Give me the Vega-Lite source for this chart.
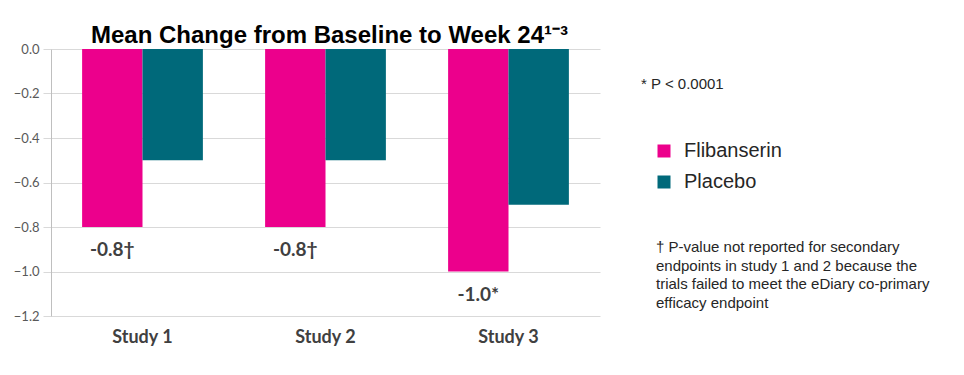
{
  "$schema": "https://vega.github.io/schema/vega-lite/v6.json",
  "width": 549,
  "height": 267,
  "autosize": {"type": "none"},
  "padding": {"left": 51, "top": 49, "right": 364, "bottom": 59},
  "background": "white",
  "title": {
    "text": "Mean Change from Baseline to Week 24¹⁻³",
    "font": "Liberation Sans",
    "fontSize": 24,
    "fontWeight": "bold",
    "color": "#000000",
    "anchor": "middle",
    "offset": -5,
    "dx": 4
  },
  "config": {
    "view": {"stroke": null},
    "axis": {"labelFont": "Lato", "titleFont": "Lato"}
  },
  "datasets": {
    "bars": [
      {"study": "Study 1", "group": "Flibanserin", "value": -0.8, "label": "-0.8†"},
      {"study": "Study 1", "group": "Placebo", "value": -0.5, "label": ""},
      {"study": "Study 2", "group": "Flibanserin", "value": -0.8, "label": "-0.8†"},
      {"study": "Study 2", "group": "Placebo", "value": -0.5, "label": ""},
      {"study": "Study 3", "group": "Flibanserin", "value": -1.0, "label": "-1.0*"},
      {"study": "Study 3", "group": "Placebo", "value": -0.7, "label": ""}
    ],
    "pnote": [{"note": "* P < 0.0001"}],
    "footnote": [{"note": ["† P-value not reported for secondary", "endpoints in study 1 and 2  because the", "trials failed to meet the eDiary co-primary", "efficacy endpoint"]}]
  },
  "layer": [
    {
      "data": {"name": "bars"},
      "mark": {"type": "bar"},
      "encoding": {
        "x": {
          "field": "study",
          "type": "nominal",
          "scale": {"paddingInner": 0.34, "paddingOuter": 0.17},
          "axis": {
            "title": null,
            "labelAngle": 0,
            "labelFont": "Lato",
            "labelFontSize": 18,
            "labelFontWeight": "bold",
            "labelColor": "#404040",
            "labelPadding": 12,
            "domain": false,
            "ticks": false,
            "grid": false
          }
        },
        "xOffset": {
          "field": "group",
          "type": "nominal",
          "scale": {"paddingInner": 0, "paddingOuter": 0, "domain": ["Flibanserin", "Placebo"]}
        },
        "y": {
          "field": "value",
          "type": "quantitative",
          "scale": {"domain": [-1.2, 0], "nice": false},
          "axis": {
            "title": null,
            "values": [0, -0.2, -0.4, -0.6, -0.8, -1.0, -1.2],
            "format": ".1f",
            "labelFont": "Lato",
            "labelFontSize": 13,
            "labelColor": "#595959",
            "labelPadding": 4,
            "tickSize": 8,
            "tickColor": "#d9d9d9",
            "domainColor": "#bfbfbf",
            "gridColor": "#d9d9d9",
            "grid": true
          }
        },
        "color": {
          "field": "group",
          "type": "nominal",
          "scale": {"domain": ["Flibanserin", "Placebo"], "range": ["#EC008C", "#00697A"]},
          "legend": {
            "title": null,
            "orient": "none",
            "legendX": 603,
            "legendY": 92,
            "symbolType": "square",
            "symbolSize": 169,
            "symbolStrokeWidth": 0,
            "labelFont": "Liberation Sans",
            "labelFontSize": 20,
            "labelColor": "#262626",
            "labelOffset": 10,
            "rowPadding": 11
          }
        }
      }
    },
    {
      "data": {"name": "bars"},
      "transform": [{"filter": "datum.group === 'Flibanserin'"}],
      "mark": {"type": "text", "baseline": "middle", "align": "center", "dy": 23, "font": "Lato", "fontSize": 19, "fontWeight": "bold", "color": "#404040"},
      "encoding": {
        "x": {"field": "study", "type": "nominal"},
        "xOffset": {"field": "group", "type": "nominal"},
        "y": {"field": "value", "type": "quantitative"},
        "text": {"field": "label"}
      }
    },
    {
      "data": {"name": "pnote"},
      "mark": {"type": "text", "align": "left", "baseline": "middle", "font": "Liberation Sans", "fontSize": 15, "color": "#262626"},
      "encoding": {
        "x": {"value": 590},
        "y": {"value": 35},
        "text": {"field": "note"}
      }
    },
    {
      "data": {"name": "footnote"},
      "mark": {"type": "text", "align": "left", "baseline": "middle", "font": "Liberation Sans", "fontSize": 15, "lineHeight": 18.7, "color": "#262626"},
      "encoding": {
        "x": {"value": 605},
        "y": {"value": 198},
        "text": {"field": "note"}
      }
    }
  ]
}
